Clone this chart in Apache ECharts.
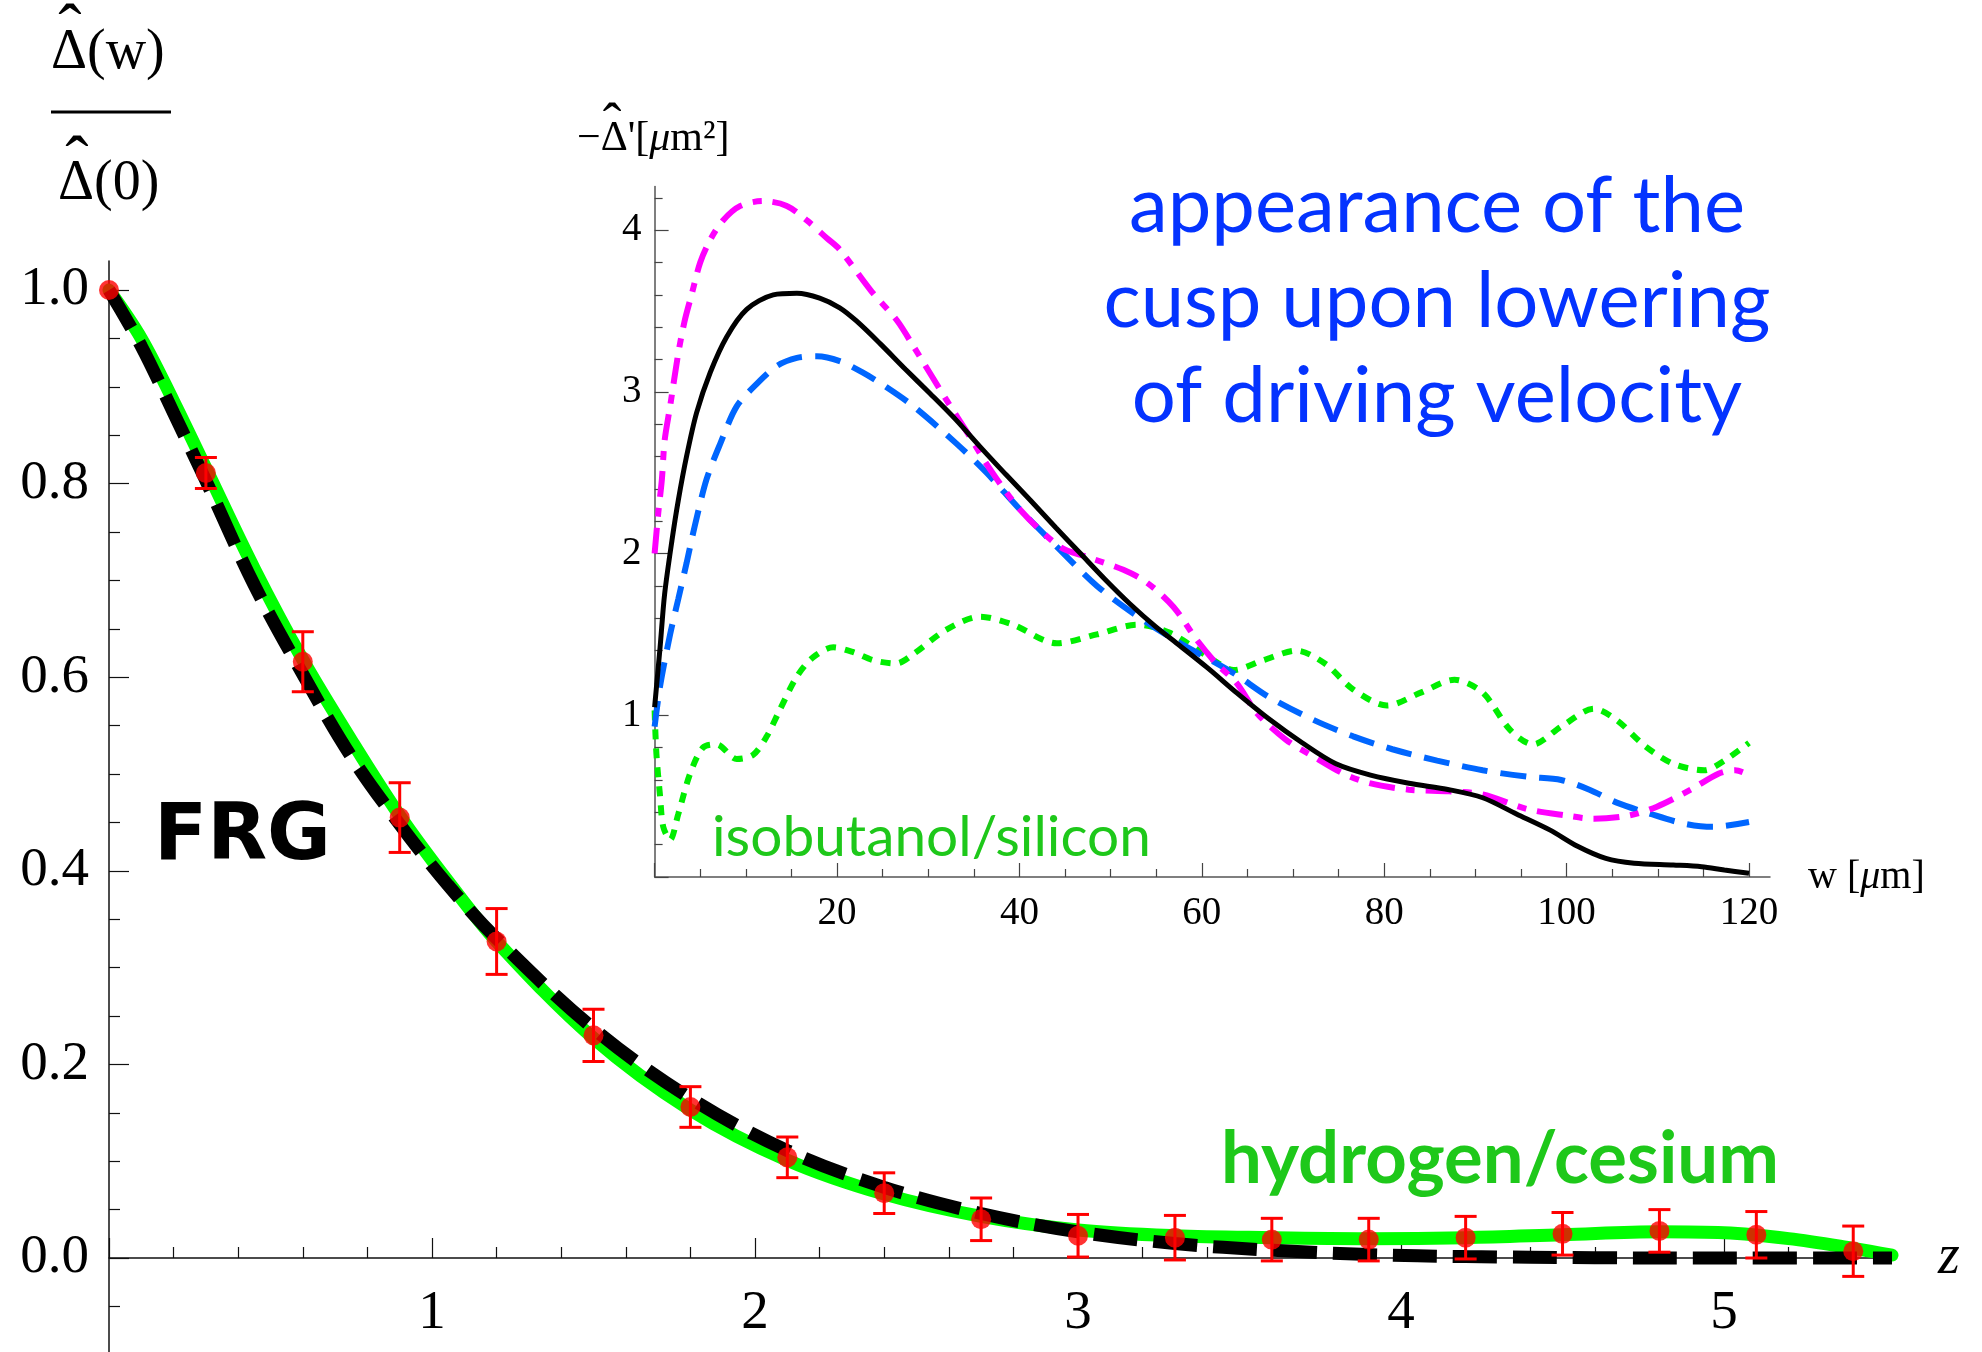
<!DOCTYPE html>
<html><head><meta charset="utf-8">
<script src="https://cdn.jsdelivr.net/npm/echarts@6/dist/echarts.min.js"></script>
<style>html,body{margin:0;padding:0;background:#fff}#c{width:1982px;height:1352px}</style>
</head><body><div id="c"></div>
<script>
// ===== Main panel: hydrogen/cesium measurement (points with error bars) =====
const zPoints = [0,0.3,0.6,0.9,1.2,1.5,1.8,2.1,2.4,2.7,3.0,3.3,3.6,3.9,4.2,4.5,4.8,5.1,5.4];
const yPoints = [1.0,0.811,0.616,0.455,0.327,0.230,0.156,0.104,0.067,0.040,0.023,0.021,0.019,0.019,0.021,0.025,0.028,0.024,0.007];
const yErrors = [0,0.016,0.031,0.036,0.034,0.027,0.021,0.021,0.021,0.022,0.022,0.023,0.022,0.022,0.022,0.022,0.022,0.024,0.026];
// thick green curve (hydrogen/cesium)
const zGreen = [0,0.1,0.2,0.3,0.45,0.6,0.75,0.9,1.05,1.2,1.5,1.8,2.1,2.4,2.7,3.0,3.3,3.6,3.9,4.2,4.5,4.8,5.0,5.2,5.4,5.52];
const yGreen = [1.0,0.950,0.885,0.816,0.712,0.618,0.535,0.457,0.389,0.327,0.227,0.153,0.101,0.066,0.043,0.029,0.023,0.021,0.020,0.021,0.024,0.027,0.026,0.020,0.010,0.003];
// black dashed curve (FRG)
const zFRG = [0,0.1,0.2,0.3,0.45,0.6,0.75,0.9,1.05,1.2,1.5,1.8,2.1,2.4,2.7,3.0,3.3,3.6,3.9,4.2,4.6,5.0,5.52];
const yFRG = [1.0,0.942,0.873,0.803,0.695,0.603,0.518,0.448,0.385,0.330,0.237,0.165,0.111,0.073,0.046,0.027,0.015,0.008,0.0035,0.0015,0.0003,0,0];
// ===== Inset: -Delta'(w) for isobutanol/silicon =====
const wBlack = [0,0.6,1.1,1.9,2.6,3.5,4.6,6.1,7.9,10.1,13.0,15.6,18.1,20.3,22.1,24.7,27.5,30.2,33.0,35.7,38.5,41.2,44.0,46.7,49.4,52.1,54.9,57.6,60.7,63.8,67.3,71.0,74.7,78.5,82.7,87.1,90.8,94.5,98.2,101.2,104.3,107.4,111.7,114.8,117.3,120];
const vBlack = [1.05,1.42,1.75,2.08,2.33,2.60,2.87,3.12,3.34,3.51,3.60,3.61,3.58,3.52,3.44,3.30,3.14,2.99,2.83,2.66,2.49,2.33,2.16,2.00,1.84,1.69,1.55,1.43,1.29,1.14,0.98,0.83,0.70,0.63,0.58,0.54,0.49,0.39,0.29,0.19,0.115,0.085,0.074,0.064,0.043,0.023];
const wBlue = [0,0.6,1.7,2.6,3.5,4.4,5.7,7.2,9.0,11.2,13.4,15.6,17.8,20.3,22.8,25.4,28.4,33.1,36.4,40.1,44.5,48.5,52.5,56.9,63.5,67.3,72.3,76.6,80.9,85.8,90.8,95.7,99.4,102.5,105.5,109.2,112.9,116.0,120];
const vBlue = [0.93,1.18,1.50,1.72,1.94,2.17,2.46,2.68,2.91,3.05,3.16,3.21,3.22,3.19,3.12,3.03,2.91,2.68,2.50,2.27,2.02,1.80,1.63,1.47,1.26,1.115,0.97,0.87,0.79,0.72,0.66,0.62,0.60,0.54,0.46,0.39,0.33,0.31,0.34];
const wMagenta = [0,0.4,0.8,1.1,1.7,2.6,3.3,4.1,5.0,6.1,7.5,9.4,11.9,14.5,16.7,18.9,20.3,23.8,26.6,28.4,32.0,34.6,36.8,40.1,44.5,47.4,51.4,54.0,56.9,59.4,61.6,63.8,66.1,69.2,72.4,75.5,78.4,82.7,87.1,90.8,95.7,100,103,106.8,109.9,113.6,116.7,118.5,120];
const vMagenta = [2.0,2.25,2.46,2.70,2.91,3.24,3.44,3.61,3.80,3.94,4.06,4.15,4.18,4.15,4.06,3.95,3.88,3.62,3.44,3.28,2.95,2.72,2.52,2.27,2.04,1.98,1.90,1.82,1.67,1.47,1.32,1.20,1.01,0.85,0.74,0.64,0.58,0.54,0.53,0.51,0.42,0.38,0.36,0.38,0.435,0.54,0.64,0.66,0.63];
const wGreenDot = [0,0.2,0.6,0.95,1.7,2.6,3.9,5.3,6.8,9.0,10.8,12.3,13.7,15.6,17.4,19.6,21.8,24.0,26.5,28.4,32.0,35.7,39.3,44.1,48.5,52.9,56.5,61.3,63.5,66.7,70.4,73.5,76.6,80.3,84.0,87.7,90.8,93.8,96.3,99.4,103.0,105.5,108.6,111.7,115.1,117.3,120];
const vGreenDot = [1.03,0.76,0.50,0.31,0.23,0.39,0.64,0.80,0.82,0.73,0.755,0.87,1.03,1.24,1.36,1.42,1.39,1.34,1.32,1.38,1.53,1.61,1.56,1.445,1.50,1.56,1.51,1.34,1.28,1.34,1.40,1.32,1.16,1.06,1.14,1.22,1.14,0.91,0.82,0.93,1.04,0.97,0.81,0.70,0.66,0.72,0.83];
// ===== Tick labels =====
const mainXTicks = [1,2,3,4,5];
const mainYTicks = [0,0.2,0.4,0.6,0.8,1.0];
const insetXTicks = [20,40,60,80,100,120];
const insetYTicks = [1,2,3,4];

function minors(a,b,step,major){const out=[];for(let k=Math.round(a/step);k*step<=b+1e-9;k++){const v=+(k*step).toFixed(6);if(Math.abs(v/major-Math.round(v/major))>1e-6)out.push(v);}return out;}
const pairs=(xs,ys)=>xs.map((x,i)=>[x,ys[i]]);

const SERIF='Liberation Serif';
const mctx=document.createElement('canvas').getContext('2d');
function fit(text,weight,family,target){mctx.font=weight+' 100px "'+family+'"';return 100*target/mctx.measureText(text).width;}
function T(text,x,base,size,family,o){o=o||{};return {type:'text',x:x,y:base-0.31*size,z:100,silent:true,
  style:Object.assign({text:text,fontSize:size,fontFamily:family,fontWeight:o.weight||'normal',fontStyle:o.style||'normal',
  fill:o.color||'#000',align:o.align||'left',textAlign:o.align||'left',verticalAlign:'middle',textVerticalAlign:'middle'},o.extra||{})};}

const blueSize=fit('cusp upon lowering','normal','Lato',667);
const hydSize=fit('hydrogen/cesium','bold','Lato',558);
const isoSize=fit('isobutanol/silicon','normal','Lato',439);
const frgSize=fit('FRG','bold','DejaVu Sans',177);
const BLUE='#0433ff', TXTGREEN='#1ec81a';

// main grid spans y in [-0.2, 1.03]; x-axis is shifted up to y = 0
const MAIN_TOP=261, MAIN_H=1190.6, ZERO_SHIFT=-(MAIN_H*0.2/1.23);

function axisBase(grid,min,max,opt){return Object.assign({type:'value',gridIndex:grid,min:min,max:max,splitLine:{show:false},minorTick:{show:false}},opt);}
const mainLine={onZero:false,lineStyle:{color:'#111',width:1.5}};
const insetLine={onZero:false,lineStyle:{color:'#555',width:1.5}};

const option={
  animation:false,
  backgroundColor:'#fff',
  grid:[
    {left:109,top:MAIN_TOP,width:1783,height:MAIN_H,containLabel:false,outerBoundsMode:'none'},
    {left:654.6,top:186.5,width:1115.4,height:690.5,containLabel:false,outerBoundsMode:'none'}
  ],
  xAxis:[
    axisBase(0,0,5.52,{interval:1,position:'bottom',offset:ZERO_SHIFT,axisLine:mainLine,
      axisTick:{inside:true,length:20,customValues:[0].concat(mainXTicks),lineStyle:{color:'#111',width:1.2}},
      axisLabel:{customValues:mainXTicks,fontFamily:SERIF,fontSize:55,color:'#000',margin:28},
      name:'z',nameLocation:'end',nameGap:46,nameTextStyle:{fontFamily:SERIF,fontSize:56,fontStyle:'italic',color:'#000',padding:[14,0,0,0]}}),
    axisBase(0,0,5.52,{interval:0.2,position:'bottom',offset:ZERO_SHIFT,axisLine:{show:false,onZero:false},
      axisTick:{inside:true,length:11,customValues:minors(0,5.5,0.2,1),lineStyle:{color:'#111',width:1.2}},axisLabel:{show:false}}),
    axisBase(1,0,122.3,{interval:20,position:'bottom',axisLine:insetLine,
      axisTick:{inside:true,length:14,customValues:[0].concat(insetXTicks),lineStyle:{color:'#444',width:1.2}},
      axisLabel:{customValues:insetXTicks,fontFamily:SERIF,fontSize:39,color:'#000',margin:17},
      name:'w [{i|μ}m]',nameLocation:'end',nameGap:38,
      nameTextStyle:{fontFamily:SERIF,fontSize:40,color:'#000',rich:{i:{fontFamily:SERIF,fontSize:40,fontStyle:'italic',color:'#000'}}}}),
    axisBase(1,0,122.3,{interval:5,position:'bottom',axisLine:{show:false,onZero:false},
      axisTick:{inside:true,length:8,customValues:minors(0,120,5,20),lineStyle:{color:'#444',width:1.2}},axisLabel:{show:false}})
  ],
  yAxis:[
    axisBase(0,-0.2,1.03,{interval:0.2,position:'left',axisLine:mainLine,
      axisTick:{inside:true,length:20,customValues:mainYTicks,lineStyle:{color:'#111',width:1.2}},
      axisLabel:{customValues:mainYTicks,formatter:v=>v.toFixed(1),fontFamily:SERIF,fontSize:55,color:'#000',margin:20}}),
    axisBase(0,-0.2,1.03,{interval:0.05,position:'left',axisLine:{show:false,onZero:false},
      axisTick:{inside:true,length:11,customValues:minors(-0.15,0.95,0.05,0.2),lineStyle:{color:'#111',width:1.2}},axisLabel:{show:false}}),
    axisBase(1,0,4.27,{interval:1,position:'left',axisLine:insetLine,
      axisTick:{inside:true,length:14,customValues:[0].concat(insetYTicks),lineStyle:{color:'#444',width:1.2}},
      axisLabel:{customValues:insetYTicks,fontFamily:SERIF,fontSize:39,color:'#000',margin:13}}),
    axisBase(1,0,4.27,{interval:0.2,position:'left',axisLine:{show:false,onZero:false},
      axisTick:{inside:true,length:8,customValues:minors(0,4.2,0.2,1),lineStyle:{color:'#444',width:1.2}},axisLabel:{show:false}})
  ],
  series:[
    {type:'line',name:'hydrogen/cesium',xAxisIndex:0,yAxisIndex:0,data:pairs(zGreen,yGreen),smooth:0.35,symbol:'none',
      lineStyle:{color:'#00ff00',width:13,cap:'round'},z:2},
    {type:'line',name:'FRG',xAxisIndex:0,yAxisIndex:0,data:pairs(zFRG,yFRG),smooth:0.35,symbol:'none',
      lineStyle:{color:'#000',width:13,type:[44,16]},z:3},
    {type:'custom',name:'error bars',xAxisIndex:0,yAxisIndex:0,z:4,
      data:zPoints.map((z,i)=>[z,yPoints[i],yErrors[i]]),
      renderItem:function(params,api){
        const z=api.value(0),y=api.value(1),e=api.value(2);
        if(!e) return {type:'group',children:[]};
        const a=api.coord([z,y+e]),b=api.coord([z,y-e]);const hw=11;const st={stroke:'#ff0000',lineWidth:3};
        return {type:'group',children:[
          {type:'line',shape:{x1:a[0],y1:a[1],x2:b[0],y2:b[1]},style:st},
          {type:'line',shape:{x1:a[0]-hw,y1:a[1],x2:a[0]+hw,y2:a[1]},style:st},
          {type:'line',shape:{x1:b[0]-hw,y1:b[1],x2:b[0]+hw,y2:b[1]},style:st}]};
      }},
    {type:'scatter',name:'data',xAxisIndex:0,yAxisIndex:0,data:pairs(zPoints,yPoints),symbolSize:20,
      itemStyle:{color:'#ff0000'},z:5},
    {type:'line',name:'green dotted',xAxisIndex:2,yAxisIndex:2,data:pairs(wGreenDot,vGreenDot),smooth:0.3,symbol:'none',
      lineStyle:{color:'#00ee00',width:6,type:[10,9]},z:2},
    {type:'line',name:'blue dashed',xAxisIndex:2,yAxisIndex:2,data:pairs(wBlue,vBlue),smooth:0.3,symbol:'none',
      lineStyle:{color:'#0066ff',width:6,type:[26,13]},z:3},
    {type:'line',name:'magenta dash-dot',xAxisIndex:2,yAxisIndex:2,data:pairs(wMagenta,vMagenta),smooth:0.3,symbol:'none',
      lineStyle:{color:'#ff00ff',width:6,type:[26,11,9,11]},z:4},
    {type:'line',name:'black solid',xAxisIndex:2,yAxisIndex:2,data:pairs(wBlack,vBlack),smooth:0.3,symbol:'none',
      lineStyle:{color:'#000',width:5},z:5}
  ],
  graphic:{elements:[
    // main y-axis label: Delta-hat(w) / Delta-hat(0)
    T('Δ(w)',51,71,56,SERIF),
    T('ˆ',70,55,70,SERIF,{align:'center'}),
    {type:'line',shape:{x1:51,y1:112,x2:171,y2:112},style:{stroke:'#000',lineWidth:3},silent:true},
    T('Δ(0)',58,202,56,SERIF),
    T('ˆ',77,187,70,SERIF,{align:'center'}),
    // inset y label
    T("−Δ'[{i|μ}m²]",577,152,42,SERIF,{extra:{rich:{i:{fontFamily:SERIF,fontSize:42,fontStyle:'italic',fill:'#000'}}}}),
    T('ˆ',612,145,56,SERIF,{align:'center'}),
    // annotations
    T('appearance of the',1437,231,blueSize,'Lato',{align:'center',color:BLUE}),
    T('cusp upon lowering',1437,326,blueSize,'Lato',{align:'center',color:BLUE}),
    T('of driving velocity',1437,421,blueSize,'Lato',{align:'center',color:BLUE}),
    T('FRG',154,863,frgSize,'DejaVu Sans',{weight:'bold'}),
    T('hydrogen/cesium',1221,1182,hydSize,'Lato',{weight:'bold',color:TXTGREEN}),
    T('isobutanol/silicon',712,855,isoSize,'Lato',{color:TXTGREEN})
  ]}
};
const chart=echarts.init(document.getElementById('c'),null,{renderer:'canvas'});
chart.setOption(option);
</script></body></html>
